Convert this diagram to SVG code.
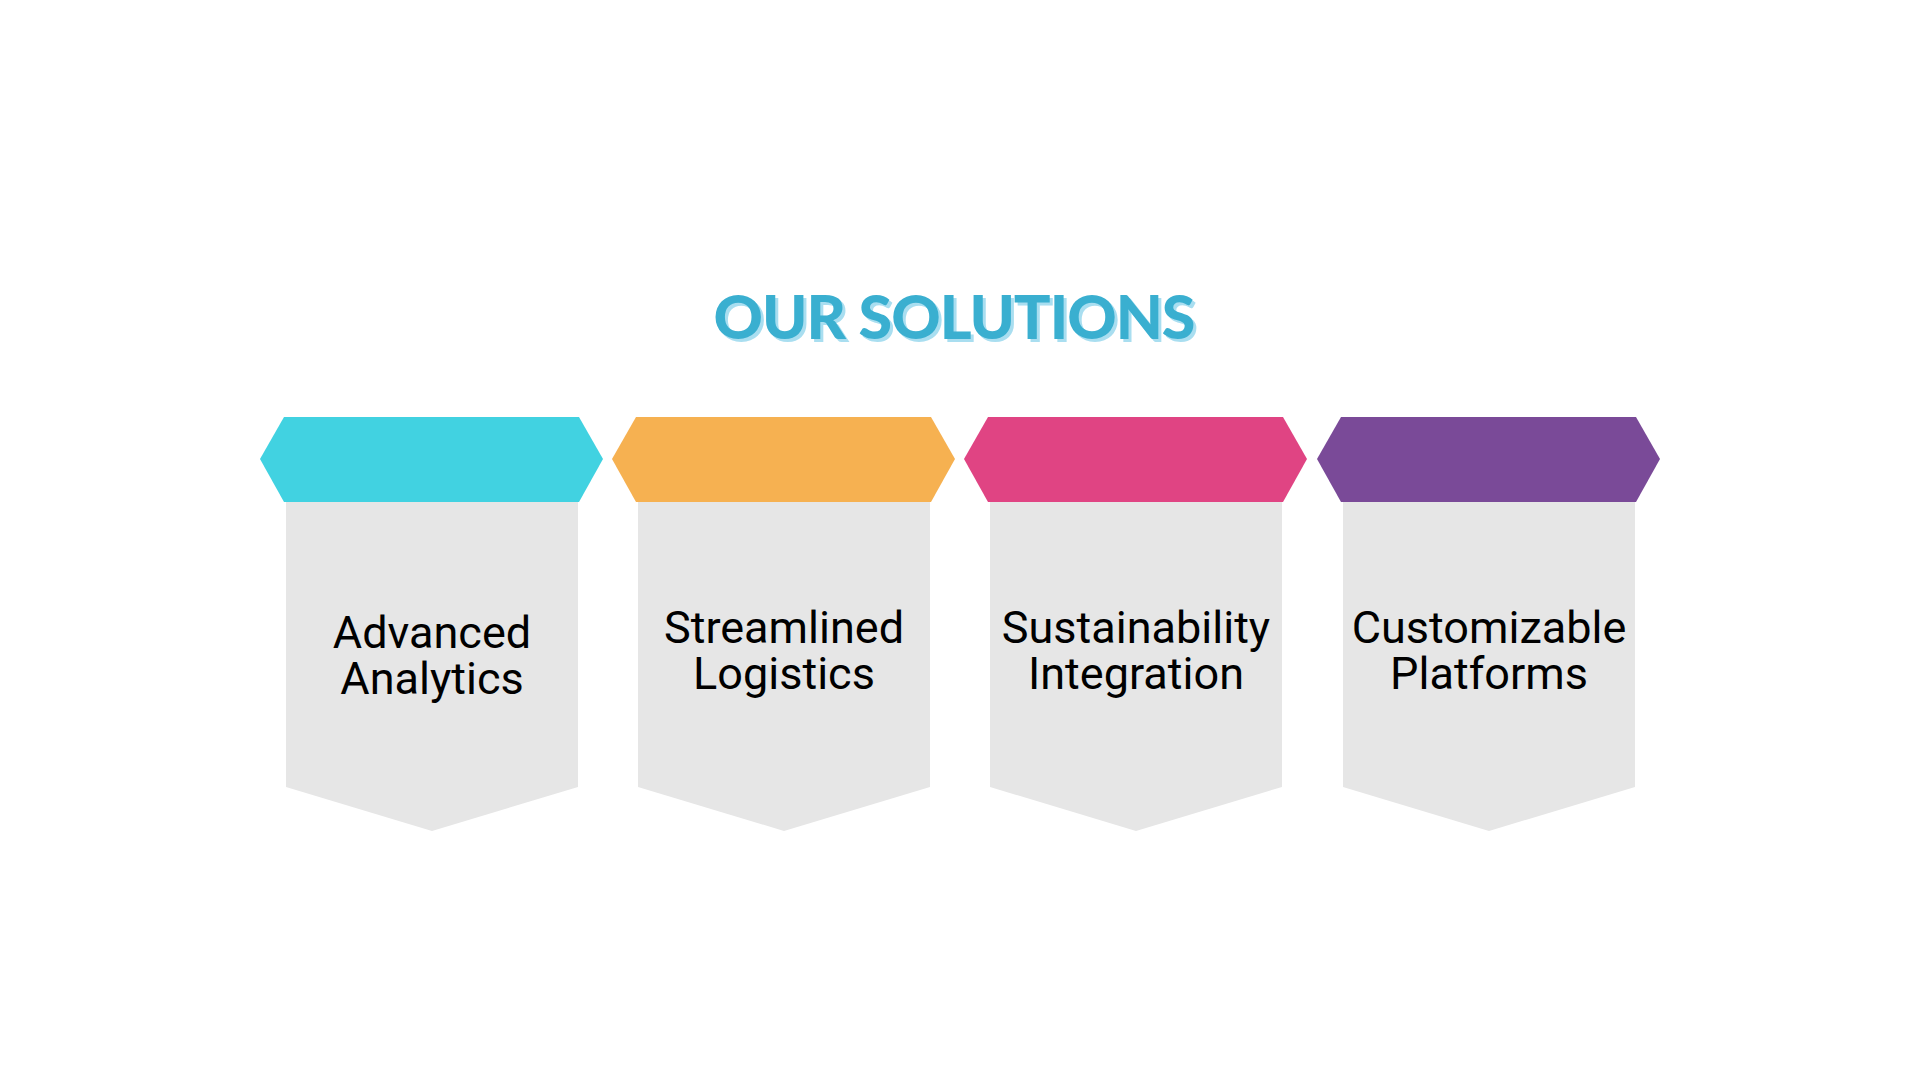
<svg xmlns="http://www.w3.org/2000/svg" width="1920" height="1078" viewBox="0 0 1920 1078">
<style>
.t{font-family:Lato,"Open Sans",sans-serif;font-weight:900;font-size:61px;text-anchor:middle}
.l{font-family:Roboto,"Liberation Sans",sans-serif;font-size:45px;fill:#000;text-anchor:middle}
.b{fill:#e6e6e6}
</style>
<defs>
<path id="hex" d="M-172,459 L-148,417 L147,417 L171,459 L147,502 L-148,502 Z"/>
<path id="box" d="M-146,502 L146,502 L146,787 L0,831 L-146,787 Z"/>
</defs>
<rect width="1920" height="1078" fill="#fff"/>
<g id="title">
<text class="t" x="957" y="342" fill="#a9def0" letter-spacing="-1">OUR SOLUTIONS</text>
<text class="t" x="954" y="339" fill="#3aafd0" letter-spacing="-1">OUR SOLUTIONS</text>
</g>
<g id="n1" transform="translate(432,0)">
<use href="#box" class="b"/><use href="#hex" fill="#41d2e1"/>
<text class="l" y="648">Advanced</text><text class="l" y="694">Analytics</text>
</g>
<g id="n2" transform="translate(784,0)">
<use href="#box" class="b"/><use href="#hex" fill="#f6b151"/>
<text class="l" y="643">Streamlined</text><text class="l" y="689">Logistics</text>
</g>
<g id="n3" transform="translate(1136,0)">
<use href="#box" class="b"/><use href="#hex" fill="#e04483"/>
<text class="l" y="643">Sustainability</text><text class="l" y="689">Integration</text>
</g>
<g id="n4" transform="translate(1489,0)">
<use href="#box" class="b"/><use href="#hex" fill="#7a4a98"/>
<text class="l" y="643">Customizable</text><text class="l" y="689">Platforms</text>
</g>
<g id="connectors"/>
</svg>
